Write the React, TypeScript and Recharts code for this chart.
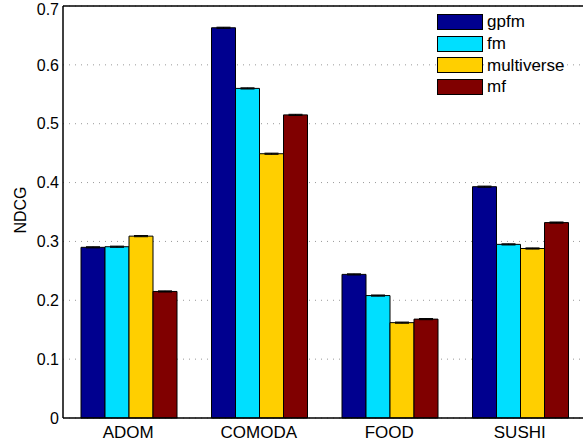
import React from 'react';
import {
  BarChart,
  Bar,
  XAxis,
  YAxis,
  CartesianGrid,
  ReferenceLine,
  ErrorBar,
} from 'recharts';

const categories = ['ADOM', 'COMODA', 'FOOD', 'SUSHI'];
const gpfm = [0.29, 0.663, 0.244, 0.393];
const fm = [0.291, 0.56, 0.208, 0.295];
const multiverse = [0.309, 0.449, 0.162, 0.288];
const mf = [0.215, 0.515, 0.168, 0.332];
// tiny error caps visible on top of each bar
const gpfmErr = [0.001, 0.001, 0.001, 0.001];
const fmErr = [0.001, 0.001, 0.001, 0.001];
const multiverseErr = [0.001, 0.001, 0.001, 0.001];
const mfErr = [0.001, 0.001, 0.001, 0.001];
const yTicks = [0, 0.1, 0.2, 0.3, 0.4, 0.5, 0.6, 0.7];

const series = [
  { key: 'gpfm', color: '#00008f' },
  { key: 'fm', color: '#00dfff' },
  { key: 'multiverse', color: '#ffcf00' },
  { key: 'mf', color: '#800000' },
];

const data = categories.map((name, i) => ({
  name,
  gpfm: gpfm[i],
  fm: fm[i],
  multiverse: multiverse[i],
  mf: mf[i],
  gpfmErr: gpfmErr[i],
  fmErr: fmErr[i],
  multiverseErr: multiverseErr[i],
  mfErr: mfErr[i],
}));

const FONT = 'Helvetica, Arial, "Liberation Sans", sans-serif';

// legend drawn as an overlay so it doesn't take room from the plot
const LegendBox = () => (
  <div
    style={{
      position: 'absolute',
      left: 437,
      top: 11,
      fontFamily: FONT,
      fontSize: 17,
      color: '#000',
    }}
  >
    {series.map((s) => (
      <div key={s.key} style={{ display: 'flex', alignItems: 'center', height: 21.7 }}>
        <div
          style={{
            width: 44,
            height: 14,
            background: s.color,
            border: '1px solid #000',
            marginRight: 4,
          }}
        />
        <span style={{ lineHeight: '15px' }}>{s.key}</span>
      </div>
    ))}
  </div>
);

const NdcgLabel = () => (
  <text
    x={20}
    y={210}
    transform="rotate(-90, 20, 210)"
    textAnchor="middle"
    dominantBaseline="central"
    fontFamily={FONT}
    fontSize={16}
    fill="#000"
  >
    NDCG
  </text>
);

// top label sits a bit lower so it stays inside the picture
const YTick = (props: any) => {
  const { x, y, payload } = props;
  const shift = payload.value === 0.7 ? 3 : 0;
  return (
    <text
      x={x}
      y={y + shift}
      dy="0.355em"
      textAnchor="end"
      fontFamily={FONT}
      fontSize={16}
      fill="#000"
    >
      {String(payload.value)}
    </text>
  );
};

export default function App() {
  return (
    <div style={{ position: 'absolute', left: 0, top: 0, width: 583, height: 445, overflow: 'hidden', background: '#fff' }}>
      <BarChart
        width={590}
        height={445}
        data={data}
        margin={{ top: 6, right: 5, left: 0, bottom: 0 }}
        barCategoryGap={18}
        barGap={0}
      >
        <CartesianGrid vertical={false} strokeDasharray="1 5" stroke="#999" />
        <XAxis
          dataKey="name"
          height={27}
          tickLine={false}
          axisLine={{ stroke: '#000', strokeWidth: 1.5 }}
          tick={{ fill: '#000', fontSize: 17, fontFamily: FONT }}
          tickSize={6}
          tickMargin={2}
        />
        <YAxis
          width={63}
          domain={[0, 0.7]}
          ticks={yTicks}
          interval={0}
          tickLine={false}
          tickSize={2}
          tickMargin={2}
          axisLine={{ stroke: '#000', strokeWidth: 1.5 }}
          tick={<YTick />}
          label={<NdcgLabel />}
        />
        <ReferenceLine y={0.7} stroke="#000" strokeWidth={1.5} />
        {series.map((s) => (
          <Bar
            key={s.key}
            dataKey={s.key}
            fill={s.color}
            stroke="#000"
            strokeWidth={1}
            isAnimationActive={false}
          >
            <ErrorBar dataKey={`${s.key}Err`} width={7} stroke="#000" strokeWidth={1} />
          </Bar>
        ))}
      </BarChart>
      <LegendBox />
    </div>
  );
}
